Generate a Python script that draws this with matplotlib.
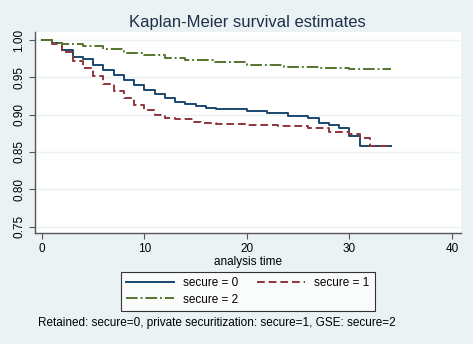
import numpy as np
import matplotlib.pyplot as plt
from matplotlib.lines import Line2D

plt.rcParams['font.family'] = ['Liberation Sans', 'DejaVu Sans']

# Kaplan-Meier step data (time, survival)
t0 = [0, 1, 2, 3, 4, 5, 6, 7, 8, 9, 10, 11, 12, 13, 14, 15, 16, 17, 20, 22, 24, 26, 27, 28, 29, 30, 31, 34.1]
s0 = [1.0, 0.9955, 0.9866, 0.977, 0.9745, 0.9665, 0.960, 0.953, 0.9464, 0.9397, 0.933, 0.9272, 0.922,
      0.9173, 0.914, 0.9115, 0.909, 0.907, 0.9048, 0.9026, 0.898, 0.8955, 0.889, 0.886, 0.8817, 0.8714,
      0.858, 0.858]

t1 = [0, 1, 2, 3, 4, 5, 6, 7, 8, 9, 10, 11, 12, 13, 14.8, 15.5, 17, 20, 23, 26, 28, 30, 31, 32, 34.1]
s1 = [1.0, 0.9947, 0.9843, 0.9718, 0.962, 0.9517, 0.941, 0.932, 0.9218, 0.913, 0.906, 0.8995, 0.896,
      0.8937, 0.8905, 0.889, 0.8875, 0.886, 0.8845, 0.8817, 0.877, 0.874, 0.868, 0.858, 0.858]

t2 = [0, 1, 2, 4, 6, 8, 10, 12, 14, 16.7, 20, 23.6, 27, 30, 34.1]
s2 = [1.0, 0.9964, 0.995, 0.992, 0.9875, 0.983, 0.9795, 0.9763, 0.9732, 0.970, 0.9665, 0.9638, 0.962,
      0.961, 0.961]

xticks = [0, 10, 20, 30, 40]
yticks = [0.75, 0.80, 0.85, 0.90, 0.95, 1.00]

bg = '#EAF2F3'
navy = '#1A476F'
maroon = '#90353B'
green = '#55752F'
title_col = '#1E2F4A'
dash1 = (0, (4, 2))
dash2 = (0, (6, 1.5, 1, 1.5))

fig = plt.figure(figsize=(4.73, 3.44), dpi=100, facecolor=bg)
ax = fig.add_axes([0.074, 0.3227, 0.9006, 0.5843])
ax.set_facecolor('white')

ax.step(t0, s0, where='post', color=navy, lw=1.4)
ax.step(t1, s1, where='post', color=maroon, lw=1.4, linestyle=dash1)
ax.step(t2, s2, where='post', color=green, lw=1.4, linestyle=dash2)

ax.set_xlim(-0.68, 40.88)
ax.set_ylim(0.7413, 1.0107)
ax.set_xticks(xticks)
ax.set_yticks(yticks)
ax.set_xticklabels([str(x) for x in xticks], fontsize=8.5)
ax.set_yticklabels(['%.2f' % y for y in yticks], fontsize=8.5, rotation=90, va='center')
ax.grid(axis='y', color=bg, lw=1)
ax.set_axisbelow(True)
for side in ['top', 'right']:
    ax.spines[side].set_visible(False)
for side in ['left', 'bottom']:
    ax.spines[side].set_color('#555555')
    ax.spines[side].set_linewidth(1.0)
ax.tick_params(direction='out', length=4, color='#555555', labelcolor='black', pad=3)

ax.set_xlabel('analysis time', fontsize=8.5, labelpad=1)
fig.text(0.524, 0.935, 'Kaplan-Meier survival estimates', ha='center', va='center',
         fontsize=12, color=title_col)

# Stata fills legend row-wise; matplotlib fills column-wise, so reorder
h0 = Line2D([], [], color=navy, lw=1.4)
h1 = Line2D([], [], color=maroon, lw=1.4, linestyle=dash1)
h2 = Line2D([], [], color=green, lw=1.4, linestyle=dash2)
leg = fig.legend([h0, h2, h1], ['secure = 0', 'secure = 2', 'secure = 1'], ncol=2, loc='center',
                 bbox_to_anchor=(0.524, 1 - 291.5 / 344), fontsize=8.5, frameon=True, fancybox=False,
                 handlelength=4.0, handletextpad=0.8, columnspacing=1.6, borderpad=0.45,
                 labelspacing=0.35)
leg.get_frame().set_edgecolor('black')
leg.get_frame().set_linewidth(0.8)

fig.text(38 / 473, 1 - 323 / 344, 'Retained: secure=0, private securitization: secure=1, GSE: secure=2',
         ha='left', va='center', fontsize=8.5)

plt.savefig('out.png', dpi=100, facecolor=bg)
